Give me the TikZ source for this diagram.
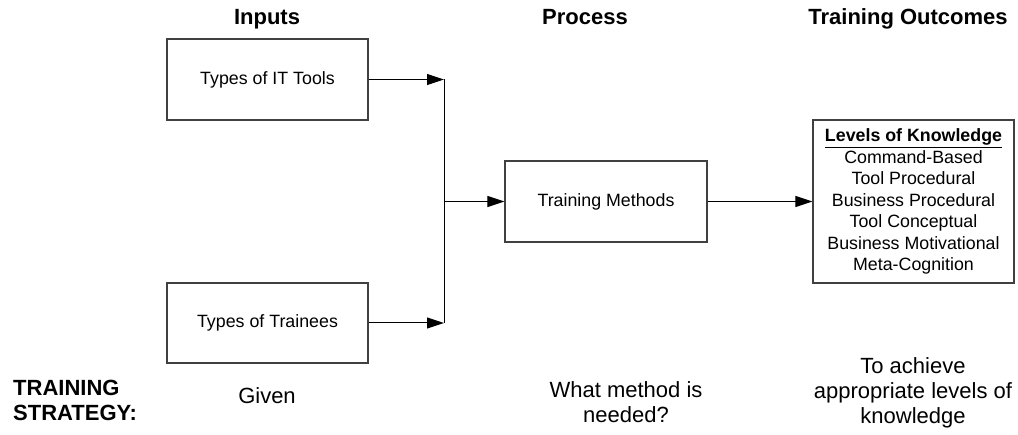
\documentclass[tikz,border=0pt]{standalone}
\usepackage{fontspec}
\setmainfont{Liberation Sans}
\usetikzlibrary{arrows.meta}
\begin{document}
\begin{tikzpicture}[x=1pt,y=-1pt,
  box/.style={draw=black!75,line width=1.1pt,fill=white,inner sep=0pt,align=center,font=\fontsize{17.8}{21.5}\selectfont},
  hdr/.style={font=\bfseries\fontsize{22}{25}\selectfont,inner sep=0pt,anchor=base},
  btm/.style={font=\fontsize{22}{24.8}\selectfont,align=center,inner sep=0pt},
  conn/.style={draw=black,line width=1pt},
  arr/.style={conn,-{Triangle[length=17pt,width=11pt]}}]
\useasboundingbox (0,0) rectangle (1018,435);
% headers
\node[hdr] (hin) at (267,25) {Inputs};
\node[hdr] (hpr) at (585,25) {Process};
\node[hdr] (hout) at (908,25) {Training Outcomes};
% boxes
\node[box,minimum width=201pt,minimum height=81pt] (b1) at (267.5,79.5) {Types of IT Tools};
\node[box,minimum width=201pt,minimum height=80pt] (b2) at (267.5,323) {Types of Trainees};
\node[box,minimum width=202pt,minimum height=81pt] (tm) at (606,201.5) {Training Methods};
\node[box,minimum width=201pt,minimum height=163pt] (lk) at (913.5,201.5)
  {\textbf{\underline{Levels of Knowledge}}\\Command-Based\\Tool Procedural\\Business Procedural\\Tool Conceptual\\Business Motivational\\Meta-Cognition};
% junction
\coordinate (jt) at (444,79.5);
\coordinate (jb) at (444,323);
\coordinate (jm) at (444,201.5);
\draw[conn] (jt) -- (jb);
\draw[arr] (b1.east) -- (jt);
\draw[arr] (b2.east) -- (jb);
\draw[arr] (jm) -- (tm.west);
\draw[arr] (tm.east) -- (lk.west);
% bottom
\node[btm,align=left,font=\bfseries\fontsize{22}{25}\selectfont,anchor=west] (ts) at (13,400.5) {TRAINING\\STRATEGY:};
\node[btm] (gv) at (267,396) {Given};
\node[btm] (wm) at (626,402.5) {What method is\\needed?};
\node[btm] (ta) at (913,393) {To achieve\\appropriate levels of\\knowledge};
\end{tikzpicture}
\end{document}
